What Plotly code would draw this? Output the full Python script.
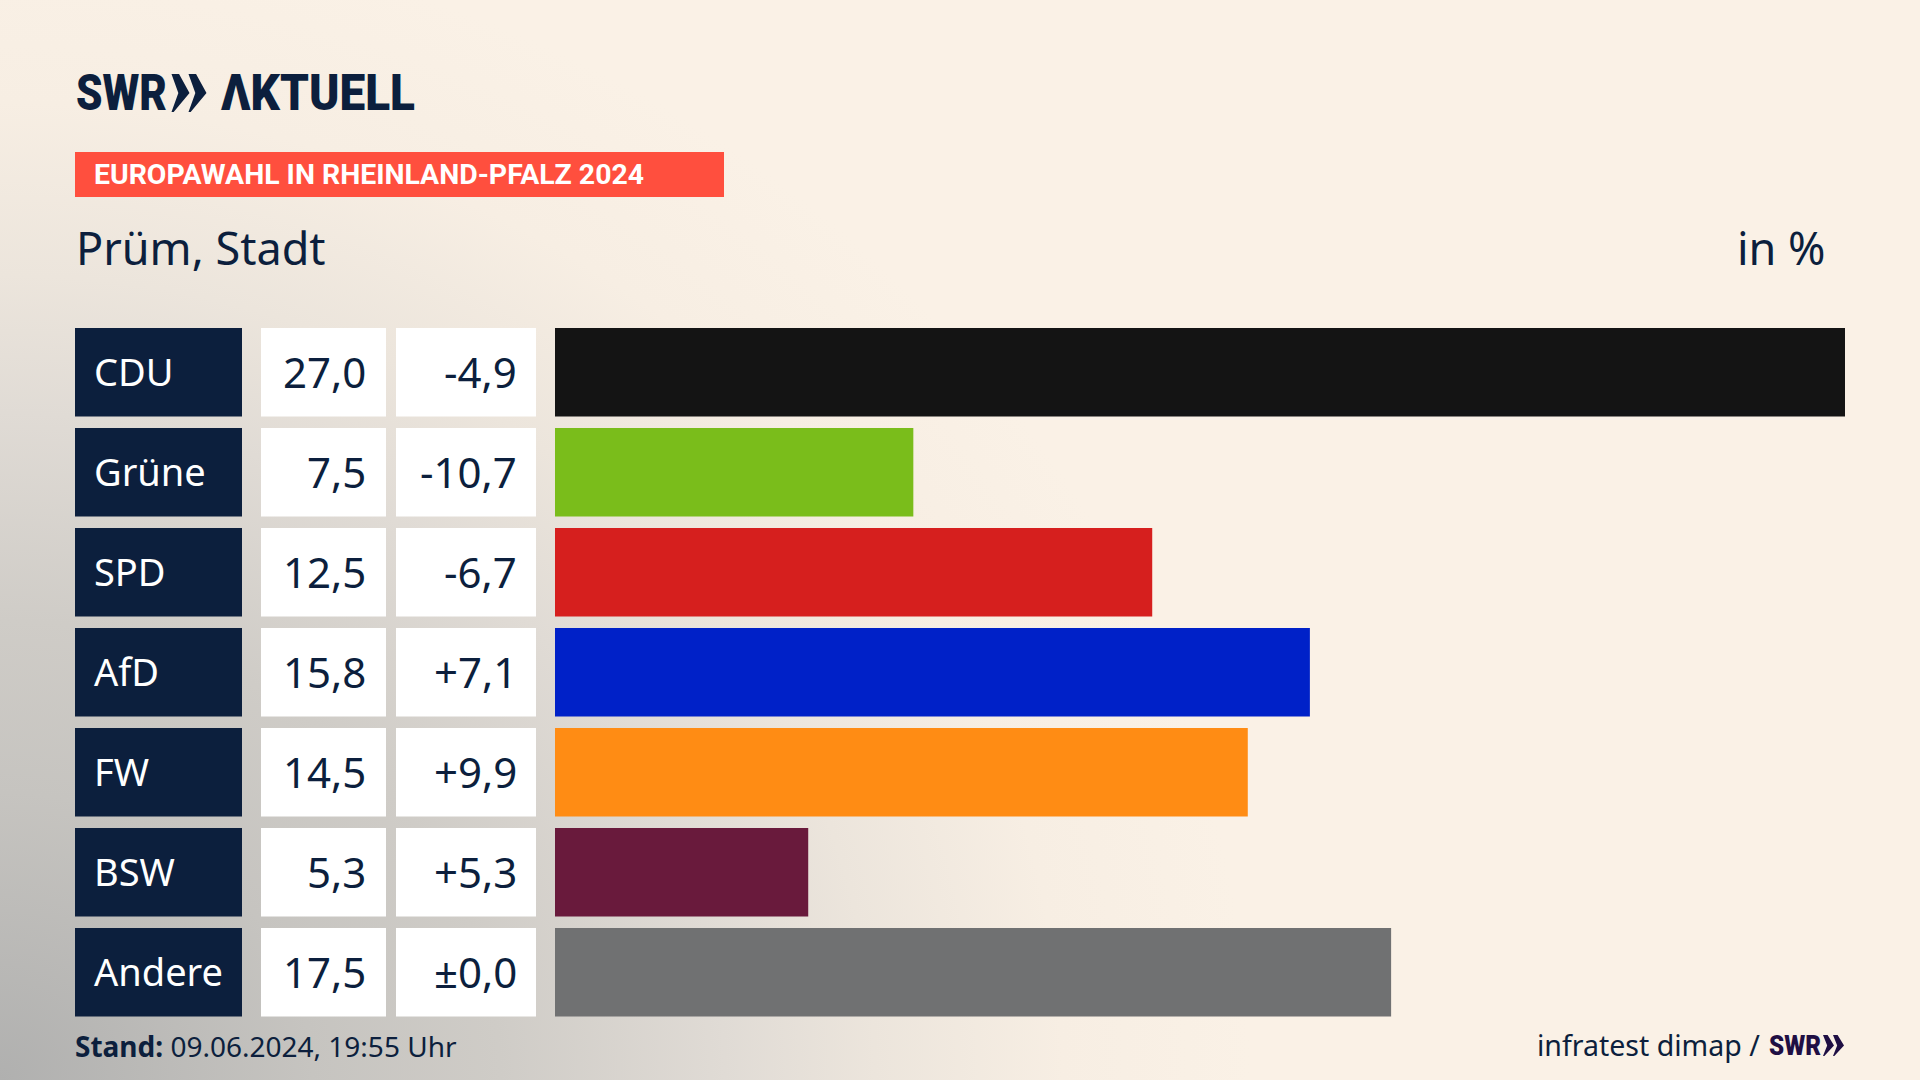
import json

import plotly.graph_objects as go

parties = ["CDU", "Grüne", "SPD", "AfD", "FW", "BSW", "Andere"]
shares = [27.0, 7.5, 12.5, 15.8, 14.5, 5.3, 17.5]
share_labels = ["27,0", "7,5", "12,5", "15,8", "14,5", "5,3", "17,5"]
diff_labels = ["-4,9", "-10,7", "-6,7", "+7,1", "+9,9", "+5,3", "±0,0"]
colors = ["#141414", "#7abd1b", "#d61f1e", "#0021c8", "#ff8c14", "#691a3c", "#707172"]

W, H = 1920, 1080
NAVY = "#0c1f3d"
LOGO_DARK = "#1f0f44"
FONT = "Noto Sans"
BOLD = "Roboto"


def px(x):
    return x / W


def py(y):
    return 1 - y / H


def text(x, y, s, size, color=NAVY, anchor="left", family=FONT, yref="paper", weight=400):
    return dict(x=px(x), y=py(y) if yref == "paper" else y, xref="paper", yref=yref, text=s,
                showarrow=False, xanchor=anchor, yanchor="middle", align=anchor,
                font=dict(family=family, size=size, color=color, weight=weight))


def chevron(x, top, bottom, w, color):
    mid = (top + bottom) / 2
    pts = [(x, top), (x + w * 0.42, top), (x + w, mid), (x + w * 0.12, bottom), (x, bottom), (x + w * 0.38, mid)]
    path = "M " + " L ".join(f"{px(a):.5f},{py(b):.5f}" for a, b in pts) + " Z"
    return dict(type="path", xref="paper", yref="paper", path=path, fillcolor=color, line_width=0)


fig = go.Figure()

# bars, on their own x axis so 27,0 fills the whole width
fig.add_trace(go.Bar(y=parties, x=shares, orientation="h", marker=dict(color=colors, line_width=0), hoverinfo="skip"))

# label and value cells are full width bars on small axes
cell_colors = [NAVY, "white", "white"]
for i, col in enumerate(cell_colors):
    fig.add_trace(go.Bar(y=parties, x=[1] * len(parties), orientation="h", marker=dict(color=col, line_width=0),
                         xaxis=f"x{i + 2}", hoverinfo="skip"))

hidden = dict(visible=False, fixedrange=True)
fig.update_layout(
    width=W, height=H, margin=dict(l=0, r=0, t=0, b=0), showlegend=False,
    paper_bgcolor="rgba(0,0,0,0)", plot_bgcolor="rgba(0,0,0,0)",
    bargap=0.115, barmode="overlay",
    yaxis=dict(domain=[py(1022.25), py(322.25)], autorange="reversed", categoryorder="array",
               categoryarray=parties, **hidden),
    xaxis=dict(domain=[px(555), px(1845)], range=[0, 27], **hidden),
    xaxis2=dict(domain=[px(75), px(242)], range=[0, 1], anchor="y", **hidden),
    xaxis3=dict(domain=[px(261), px(386)], range=[0, 1], anchor="y", **hidden),
    xaxis4=dict(domain=[px(396), px(536)], range=[0, 1], anchor="y", **hidden),
)

notes = []
for p, s, d in zip(parties, share_labels, diff_labels):
    notes.append(dict(text(92, p, p, 38, "white", yref="y"), yshift=1))
    notes.append(dict(text(368, p, s, 42, anchor="right", yref="y"), yshift=1))
    notes.append(dict(text(519, p, d, 42, anchor="right", yref="y"), yshift=1))

# header
notes.append(text(74, 93, "SWR", 50, family=BOLD, weight=900))
notes.append(text(219, 93, "ΛKTUELL", 50, family=BOLD, weight=900))
notes.append(text(92, 175, "EUROPAWAHL IN RHEINLAND-PFALZ 2024", 28, "white", family=BOLD, weight=700))
notes.append(text(74, 247, "Prüm, Stadt", 45))
notes.append(text(1828, 247, "in %", 45, anchor="right"))

# footer
notes.append(text(73, 1046, "<b>Stand:</b> 09.06.2024, 19:55 Uhr", 28))
notes.append(text(1762, 1045, "infratest dimap /", 28.5, anchor="right"))
notes.append(text(1767, 1045, "SWR", 28, LOGO_DARK, family=BOLD, weight=900))
fig.update_layout(annotations=notes)

fig.update_layout(shapes=[
    dict(type="rect", xref="paper", yref="paper", x0=px(75), x1=px(724), y0=py(197), y1=py(152),
         fillcolor="#ff4f3e", line_width=0, layer="below"),
    chevron(171.5, 74, 112, 18, NAVY),
    chevron(188.5, 74, 112, 18, NAVY),
    chevron(1823, 1035, 1056, 11, LOGO_DARK),
    chevron(1833, 1035, 1056, 11, LOGO_DARK),
])

# the logo lettering is condensed, no installed font is, so squeeze to the measured width
fit_widths = {
    "SWR|50": 91,
    "ΛKTUELL|50": 194,
    "EUROPAWAHL IN RHEINLAND-PFALZ 2024|28": 550,
    "SWR|28": 52,
}
page_style = """
document.body.style.margin = '0';
document.body.style.background =
  'radial-gradient(ellipse 1250px 1150px at 0% 100%, #b0b0af 0%, #c6c4c0 25%, #cfccc7 40%, #e0dbd5 58%, #ece5dc 70%, #f7eee3 85%, #faf1e6 100%), #faf1e6';
var fit = """ + json.dumps(fit_widths, ensure_ascii=False) + """;
document.querySelectorAll('.annotation-text').forEach(function (t) {
  var key = t.textContent + '|' + parseFloat(t.style.fontSize);
  if (fit[key]) {
    t.setAttribute('textLength', fit[key]);
    t.setAttribute('lengthAdjust', 'spacingAndGlyphs');
  }
});
"""
fig.write_html("out.html", post_script=page_style, config={"displayModeBar": False})
